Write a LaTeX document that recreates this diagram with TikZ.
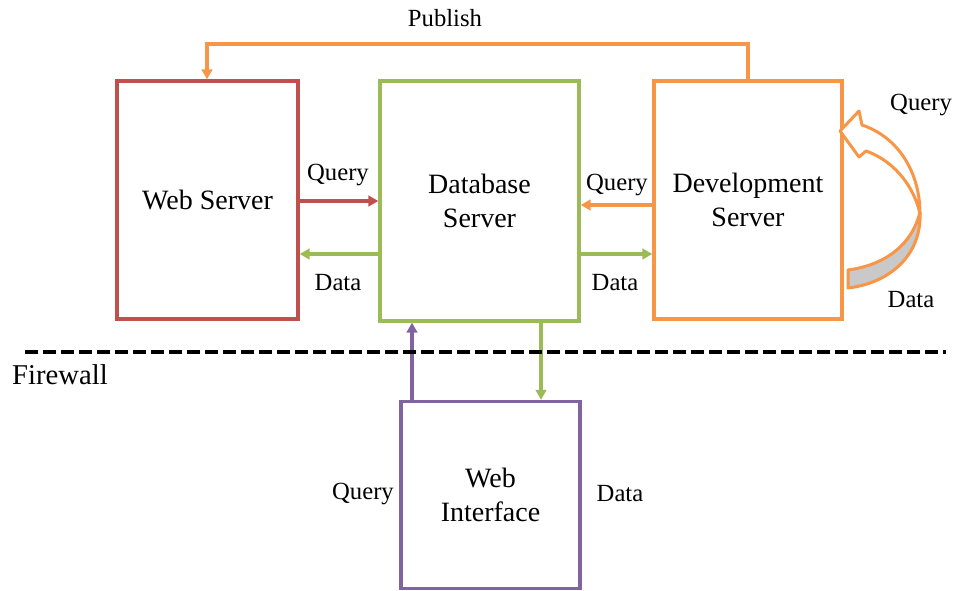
\documentclass[tikz,border=0pt]{standalone}
\usepackage{fontspec}
\setmainfont{Liberation Serif}
\usetikzlibrary{arrows.meta}
\definecolor{cred}{HTML}{C0504D}
\definecolor{cgreen}{HTML}{9BBB59}
\definecolor{corange}{HTML}{F79646}
\definecolor{cpurple}{HTML}{8064A2}
\definecolor{cgray}{HTML}{C9C9C9}
\tikzset{
  boxnode/.style={draw=#1, line width=2.5pt, rectangle, align=center, inner sep=0pt,
    font=\fontsize{21}{25.5}\selectfont},
  lbl/.style={font=\fontsize{18.5}{22}\selectfont, inner sep=0pt},
  conn/.style={draw=#1, line width=3pt, -{Triangle[length=7.5pt,width=8pt]}},
}
\begin{document}
\begin{tikzpicture}[x=0.75pt,y=-0.75pt]
\useasboundingbox (0,0) rectangle (956,590);
% boxes
\node[boxnode=cred, minimum width=135.75pt, minimum height=178.5pt] (ws) at (207.5,200) {Web Server};
\node[boxnode=cgreen, minimum width=149.25pt, minimum height=180pt] (db) at (479.5,201) {Database\\Server};
\node[boxnode=corange, minimum width=141pt, minimum height=178.5pt] (dev) at (748,200) {Development\\Server};
\node[boxnode=cpurple, minimum width=134.25pt, minimum height=140.25pt] (wi) at (490.5,495) {Web\\Interface};
% helper coordinates
\coordinate (yq1) at (0,201);
\coordinate (yd1) at (0,254);
\coordinate (yq2) at (0,205);
\coordinate (xq3) at (412,0);
\coordinate (xd3) at (541,0);
\coordinate (ptop) at (0,44);
\coordinate (xws) at (207,0);
\coordinate (xdev) at (748,0);
% connectors
\draw[conn=cred] (ws.east |- yq1) -- (db.west |- yq1);
\draw[conn=cgreen] (db.west |- yd1) -- (ws.east |- yd1);
\draw[conn=corange] (dev.west |- yq2) -- (db.east |- yq2);
\draw[conn=cgreen] (db.east |- yd1) -- (dev.west |- yd1);
\draw[conn=cpurple] (wi.north -| xq3) -- (db.south -| xq3);
\draw[conn=cgreen] (db.south -| xd3) -- (wi.north -| xd3);
\draw[conn=corange] (dev.north -| xdev) -- (xdev |- ptop) -- (xws |- ptop) -- (ws.north -| xws);
% firewall
\coordinate (fwl) at (25,352);
\coordinate (fwr) at (946,352);
\draw[line width=3.5pt, dash pattern=on 9.75pt off 3.75pt] (fwl) -- (fwr);
\node[font=\fontsize{21.5}{24}\selectfont, inner sep=0pt] (fw) at (60,375) {Firewall};
% curved arrow
\filldraw[draw=corange, fill=white, line width=2.25pt, line join=round]
  (862,125) .. controls (898,137) and (920,172) .. (920,214)
  .. controls (915,190) and (897,162) .. (866,151)
  -- (859,157) -- (840,131) -- (859,111) -- cycle;
\filldraw[draw=corange, fill=cgray, line width=2.25pt, line join=round]
  (920,212) .. controls (922,255) and (890,283) .. (848,288)
  -- (848,270) .. controls (885,265) and (912,245) .. cycle;
% labels
\node[lbl] (lq1) at (338,175) {Query};
\node[lbl] (ld1) at (338,283) {Data};
\node[lbl] (lq2) at (617,185) {Query};
\node[lbl] (ld2) at (615,283) {Data};
\node[lbl] (lq3) at (363,494) {Query};
\node[lbl] (ld3) at (620,494) {Data};
\node[lbl] (lq4) at (921,105) {Query};
\node[lbl] (ld4) at (911,300) {Data};
\node[lbl] (lpub) at (445,18) {Publish};
\end{tikzpicture}
\end{document}
